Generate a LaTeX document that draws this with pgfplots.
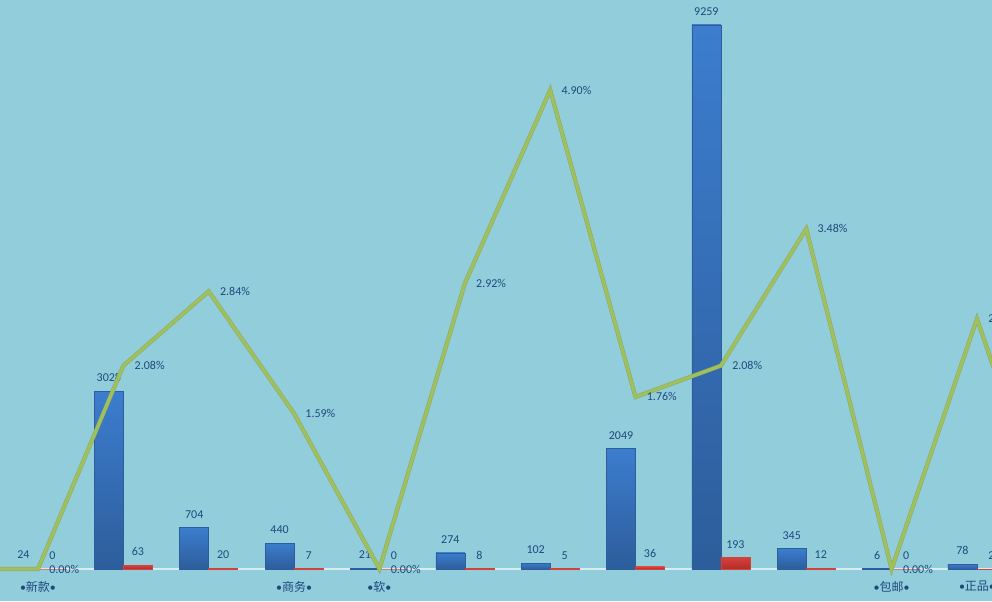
\documentclass[border=0pt]{standalone}
\usepackage{pgfplots}
\pgfplotsset{compat=1.18}
\usepackage{fontspec}
\setmainfont{Carlito}
\newfontfamily\cjk{Noto Sans CJK SC}
\newfontfamily\lat{Carlito}
\definecolor{bgcol}{RGB}{146,205,220}
\definecolor{txt}{RGB}{31,73,125}
\definecolor{bluetop}{RGB}{60,125,206}
\definecolor{bluebot}{RGB}{45,93,155}
\definecolor{redtop}{RGB}{212,64,58}
\definecolor{redbot}{RGB}{180,44,42}
\definecolor{linecol}{RGB}{160,192,92}
\definecolor{lineedge}{RGB}{138,168,104}
\definecolor{axcol}{RGB}{215,236,242}
\pgfplotsset{
  bluebar/.style={ybar, bar width=0.34, bar shift=-0.17, draw=bluebot, line width=0.4pt, top color=bluetop, bottom color=bluebot, forget plot,
    every node near coord/.append style={xshift=-10.88pt}},
  redbar/.style={ybar, bar width=0.34, bar shift=0.17, draw=redtop, line width=0.4pt, top color=redtop, bottom color=redbot, forget plot,
    every node near coord/.append style={xshift=10.88pt}},
}
\newcommand{\bl}{{\lat •}}
\begin{document}
\begin{tikzpicture}
\fill[bgcol] (0,0) rectangle (744pt,450.75pt);
\begin{axis}[
  scale only axis, width=744pt, height=450.75pt,
  xmin=-0.445, xmax=11.176, ymin=-544.6, ymax=9684.4,
  axis x line*=middle, axis y line=none,
  x axis line style={draw=axcol, line width=1pt},
  xtick={0,...,11},
  xticklabels={\bl{}新款\bl{},,,\bl{}商务\bl{},\bl{}软\bl{},,,,,,\bl{}包邮\bl{},\bl{}正品\bl{}},
  major tick length=0pt,
  xticklabel style={font=\cjk\fontsize{9}{10}\selectfont, text=txt, yshift=-5.5pt},
  nodes near coords,
  every node near coord/.append style={font=\fontsize{9}{10}\selectfont, text=txt, anchor=south, yshift=3.5pt},
  /pgf/number format/1000 sep={}, /pgf/number format/assume math mode=true,
]
% searched (blue) and converted (red)
\addplot[bluebar] coordinates {(0,24)};
\addplot[bluebar] coordinates {(1,3028)};
\addplot[bluebar] coordinates {(2,704)};
\addplot[bluebar] coordinates {(3,440)};
\addplot[bluebar] coordinates {(4,21)};
\addplot[bluebar] coordinates {(5,274)};
\addplot[bluebar] coordinates {(6,102)};
\addplot[bluebar] coordinates {(7,2049)};
\addplot[bluebar] coordinates {(8,9259)};
\addplot[bluebar] coordinates {(9,345)};
\addplot[bluebar] coordinates {(10,6)};
\addplot[bluebar] coordinates {(11,78)};
\addplot[redbar] coordinates {(0,0)};
\addplot[redbar] coordinates {(1,63)};
\addplot[redbar] coordinates {(2,20)};
\addplot[redbar] coordinates {(3,7)};
\addplot[redbar] coordinates {(4,0)};
\addplot[redbar] coordinates {(5,8)};
\addplot[redbar] coordinates {(6,5)};
\addplot[redbar] coordinates {(7,36)};
\addplot[redbar] coordinates {(8,193)};
\addplot[redbar] coordinates {(9,12)};
\addplot[redbar] coordinates {(10,0)};
\addplot[redbar] coordinates {(11,2)};
\end{axis}
\begin{axis}[
  scale only axis, width=744pt, height=450.75pt,
  xmin=-0.445, xmax=11.176, ymin=-0.3273, ymax=5.8207,
  hide axis,
  /pgf/number format/assume math mode=true,
]
\addplot[lineedge, line width=3.1pt, mark=none, forget plot] coordinates {
(-1,0) (0,0) (1,2.08) (2,2.84) (3,1.59) (4,0) (5,2.92) (6,4.90) (7,1.76) (8,2.08) (9,3.48) (10,0) (11,2.56) (12,0)};
\addplot[linecol, line width=2.4pt, mark=none] coordinates {
(-1,0) (0,0) (1,2.08) (2,2.84) (3,1.59) (4,0) (5,2.92) (6,4.90) (7,1.76) (8,2.08) (9,3.48) (10,0) (11,2.56) (12,0)};
\addplot[draw=none, mark=none, point meta=y,
  nodes near coords={\pgfmathprintnumber[fixed,fixed zerofill,precision=2]{\pgfplotspointmeta}\%},
  every node near coord/.append style={anchor=west, xshift=5pt, font=\fontsize{9}{10}\selectfont, text=txt}] coordinates {
(0,0) (1,2.08) (2,2.84) (3,1.59) (4,0) (5,2.92) (6,4.90) (7,1.76) (8,2.08) (9,3.48) (10,0) (11,2.56)};
\end{axis}
\pgfresetboundingbox
\path (0,0) rectangle (744pt,450.75pt);
\end{tikzpicture}
\end{document}
